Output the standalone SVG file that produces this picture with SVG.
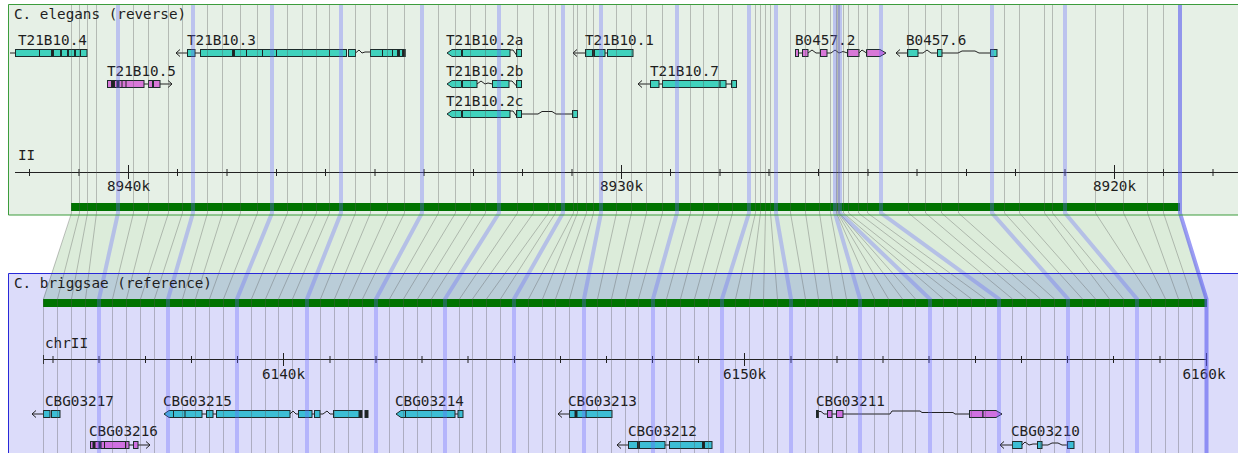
<svg xmlns="http://www.w3.org/2000/svg" width="1238" height="453" viewBox="0 0 1238 453">
<style>
text{font-family:"DejaVu Sans Mono","Liberation Mono",monospace;font-size:14.3px;fill:#1e1e1e}
.mid{text-anchor:middle}
.bx{stroke:#1d2b2b;stroke-width:1}
.tt{fill:#40d2bd}.tb{fill:#3cbed4}.mt{fill:#d878d8}.mb{fill:#cf70e0}.dk{fill:#222}
.ln{fill:none;stroke:#222;stroke-width:1}
.ax{fill:none;stroke:#222;stroke-width:1}
.thin{fill:none;stroke:#555;stroke-opacity:0.35;stroke-width:1}
.thick{fill:none;stroke:#6464ff;stroke-opacity:0.32;stroke-width:4}
.last{fill:none;stroke:#5a5af0;stroke-opacity:0.6;stroke-width:4}
</style>
<rect width="1238" height="453" fill="#ffffff"/>
<g id="panel-elegans-bg"><rect x="8.5" y="4.5" width="1240" height="210.5" fill="#e6f0e6"/></g>
<g id="panel-briggsae-bg"><rect x="8.5" y="273.5" width="1240" height="200" fill="#dcdcfa"/></g>
<g id="alignment-band">
<polygon points="71,215 1180,215 1198.6,273 51.7,273" fill="#dcecda"/>
<polygon points="51.7,273 1198.6,273 1207,299 43,299" fill="#bacdd8"/>
</g>
<g id="bars">
<rect x="71" y="203" width="1109" height="8" fill="#007300"/>
<rect x="43" y="299" width="1164" height="8" fill="#007300"/>
</g>
<g id="axis-top">
<path class="ax" d="M15 172.5H1238"/>
<path class="ax" d="M29.5 169V176M79 169V176M177.5 169V176M227 169V176M276.5 169V176M325.5 169V176M375 169V176M424 169V176M473.5 169V176M522.5 169V176M572 169V176M670.5 169V176M720 169V176M769 169V176M818.5 169V176M868 169V176M917 169V176M966.5 169V176M1015.5 169V176M1065 169V176M1163.5 169V176M1213 169V176"/>
<path class="ax" d="M128.5 165V179M621.5 165V179M1114.5 165V179"/>
<text x="18" y="160">II</text>
<text class="mid" x="128.5" y="191">8940k</text>
<text class="mid" x="621.5" y="191">8930k</text>
<text class="mid" x="1114.5" y="191">8920k</text>
</g>
<g id="axis-bottom">
<path class="ax" d="M43 359.5H1207"/>
<path class="ax" d="M43.5 355V364M53 356V363M99 356V363M145.5 356V363M191.5 356V363M237.5 356V363M330 356V363M376 356V363M422 356V363M468 356V363M514.5 356V363M560.5 356V363M606.5 356V363M652.5 356V363M698.5 356V363M791 356V363M837 356V363M883 356V363M929 356V363M975.5 356V363M1021.5 356V363M1067.5 356V363M1113.5 356V363M1160 356V363"/>
<path class="ax" d="M283.5 353V366M744.5 353V366M1206.5 353V366"/>
<text x="45" y="348">chrII</text>
<text class="mid" x="283.5" y="379">6140k</text>
<text class="mid" x="744.5" y="379">6150k</text>
<text class="mid" x="1204" y="379">6160k</text>
</g>
<g id="T21B10.4">
<text x="18" y="44.5">T21B10.4</text>
<path class="ln" d="M10 53H15.5"/>
<rect class="bx tt" x="15.5" y="49.5" width="36" height="7"/>
<path class="ln" d="M39.5 49.5V56.5"/>
<rect class="bx dk" x="51.5" y="49.5" width="2" height="7"/>
<rect class="bx tt" x="53.5" y="49.5" width="7" height="7"/>
<rect class="bx tt" x="61.5" y="49.5" width="6" height="7"/>
<rect class="bx tt" x="68.5" y="49.5" width="6" height="7"/>
<rect class="bx tt" x="75.5" y="49.5" width="11.5" height="7"/>
<path class="ln" d="M80.5 49.5V56.5"/>
</g>
<g id="T21B10.3">
<text x="187" y="44.5">T21B10.3</text>
<path class="ln" d="M187 53H176M180 49.5L176 53L180 56.5M195 53H200"/>
<rect class="bx tt" x="187.5" y="49.5" width="7.5" height="7"/>
<rect class="bx tt" x="200.5" y="49.5" width="146" height="7"/>
<rect class="bx dk" x="232.5" y="49.5" width="2" height="7"/>
<path class="ln" d="M246.5 49.5V56.5M262.5 49.5V56.5M276.5 49.5V56.5M329.5 49.5V56.5"/>
<rect class="bx tt" x="348.5" y="49.5" width="7" height="7"/>
<path class="ln" d="M355.5 53L359 50L362 53L365 52H370.5"/>
<rect class="bx tt" x="370.5" y="49.5" width="34.5" height="7"/>
<path class="ln" d="M382.5 49.5V56.5M392.5 49.5V56.5"/>
<rect class="bx dk" x="397.5" y="49.5" width="2" height="7"/>
<rect class="bx dk" x="402.5" y="49.5" width="2.5" height="7"/>
</g>
<g id="T21B10.5">
<text x="107" y="75.5">T21B10.5</text>
<rect class="bx mt" x="107.5" y="80.5" width="36.5" height="7"/>
<rect class="bx dk" x="111.5" y="80.5" width="3" height="7"/>
<rect class="bx dk" x="117" y="80.5" width="2" height="7"/>
<path class="ln" d="M122 80.5V87.5M126 80.5V87.5M144 84H148.5M160 84H172M168 80.5L172 84L168 87.5"/>
<rect class="bx mt" x="148.5" y="80.5" width="4" height="7"/>
<rect class="bx mt" x="153.5" y="80.5" width="6.5" height="7"/>
</g>
<g id="T21B10.2a">
<text x="446" y="44.5">T21B10.2a</text>
<path class="bx tt" d="M447 53L452 49.5H461.5V56.5H452Z"/>
<rect class="bx tt" x="462.5" y="49.5" width="47.5" height="7"/>
<path class="ln" d="M510 50L513 50L516.5 55"/>
<rect class="bx tt" x="516.5" y="49.5" width="5" height="7"/>
</g>
<g id="T21B10.2b">
<text x="446" y="75.5">T21B10.2b</text>
<path class="bx tt" d="M447 84L452 80.5H461.5V87.5H452Z"/>
<rect class="bx tt" x="462.5" y="80.5" width="14.5" height="7"/>
<path class="ln" d="M477 84L481 81L485 84L488 83L492.5 84M509 81L512 81L516.5 86"/>
<rect class="bx tt" x="492.5" y="80.5" width="16.5" height="7"/>
<rect class="bx tt" x="516.5" y="80.5" width="5" height="7"/>
</g>
<g id="T21B10.2c">
<text x="446" y="106">T21B10.2c</text>
<path class="bx tt" d="M447 114L452 110.5H461.5V117.5H452Z"/>
<rect class="bx tt" x="462.5" y="110.5" width="47.5" height="7"/>
<path class="ln" d="M510 111L513 111L516.5 116M521.5 114H538L542 111.5H552L556 114H572.5"/>
<rect class="bx tt" x="516.5" y="110.5" width="5" height="7"/>
<rect class="bx tt" x="572.5" y="110.5" width="5" height="7"/>
</g>
<g id="T21B10.1">
<text x="585" y="44.5">T21B10.1</text>
<path class="ln" d="M585 53H573M577 49.5L573 53L577 56.5M605 53H607.5"/>
<rect class="bx tt" x="585.5" y="49.5" width="19.5" height="7"/>
<rect class="bx dk" x="592.5" y="49.5" width="2" height="7"/>
<rect class="bx tt" x="607.5" y="49.5" width="25.5" height="7"/>
</g>
<g id="T21B10.7">
<text x="650" y="75.5">T21B10.7</text>
<path class="ln" d="M650 84H638M642 80.5L638 84L642 87.5M659 84H662.5M726 84H731.5"/>
<rect class="bx tt" x="650.5" y="80.5" width="8.5" height="7"/>
<rect class="bx tt" x="662.5" y="80.5" width="63.5" height="7"/>
<path class="ln" d="M720 80.5V87.5"/>
<rect class="bx tt" x="731.5" y="80.5" width="5" height="7"/>
</g>
<g id="B0457.2">
<text x="795" y="44.5">B0457.2</text>
<rect class="bx mt" x="795.5" y="49.5" width="3" height="7"/>
<path class="ln" d="M798.5 53H802.5M808 53L812 50L816 53H820.5M827 53H831L835 50L839 53L843 51.5L847.5 53M859 53L862 50L866.5 53"/>
<rect class="bx mt" x="802.5" y="49.5" width="5.5" height="7"/>
<rect class="bx mt" x="820.5" y="49.5" width="6.5" height="7"/>
<rect class="bx mt" x="847.5" y="49.5" width="11.5" height="7"/>
<path class="bx mt" d="M866.5 49.5H880L886 53L880 56.5H866.5Z"/>
</g>
<g id="B0457.6">
<text x="906" y="44.5">B0457.6</text>
<path class="ln" d="M907 53H896M900 49.5L896 53L900 56.5M918 53H923L927 50L931 53H937.5M942 53H958L962 51H975L979 53H990.5"/>
<rect class="bx tt" x="907.5" y="49.5" width="10.5" height="7"/>
<rect class="bx tt" x="937.5" y="49.5" width="4.5" height="7"/>
<rect class="bx tt" x="990.5" y="49.5" width="6.5" height="7"/>
</g>
<g id="CBG03217">
<text x="45" y="405.5">CBG03217</text>
<path class="ln" d="M43 414H32M36 410.5L32 414L36 417.5"/>
<rect class="bx tb" x="43.5" y="410.5" width="6.5" height="7"/>
<rect class="bx tb" x="51.5" y="410.5" width="8.5" height="7"/>
</g>
<g id="CBG03216">
<text x="89" y="436">CBG03216</text>
<rect class="bx mb" x="90.5" y="441.5" width="38.5" height="7"/>
<rect class="bx dk" x="93" y="441.5" width="2" height="7"/>
<rect class="bx dk" x="99" y="441.5" width="2" height="7"/>
<path class="ln" d="M104.5 441.5V448.5M125.5 441.5V448.5M129 445H133.5M138 445H150M146 441.5L150 445L146 448.5"/>
<rect class="bx mb" x="133.5" y="441.5" width="4.5" height="7"/>
</g>
<g id="CBG03215">
<text x="163" y="405.5">CBG03215</text>
<path class="bx tb" d="M164 414L169 410.5H173.5V417.5H169Z"/>
<rect class="bx tb" x="173.5" y="410.5" width="28.5" height="7"/>
<path class="ln" d="M185 410.5V417.5M202 414H206.5M213 414H216.5M229 410.5V417.5M290 414L293 411L296 414H298.5M312 414H314.5M320 414H323L327 411L330 414H333.5M347 410.5V417.5"/>
<rect class="bx tb" x="206.5" y="410.5" width="6.5" height="7"/>
<rect class="bx tb" x="216.5" y="410.5" width="73.5" height="7"/>
<rect class="bx tb" x="298.5" y="410.5" width="13.5" height="7"/>
<rect class="bx tb" x="314.5" y="410.5" width="5.5" height="7"/>
<rect class="bx tb" x="333.5" y="410.5" width="25.5" height="7"/>
<rect class="bx dk" x="359.5" y="410.5" width="2.5" height="7"/>
<rect class="bx dk" x="365" y="410.5" width="3" height="7"/>
</g>
<g id="CBG03214">
<text x="395" y="405.5">CBG03214</text>
<path class="bx tb" d="M396 414L401 410.5H405.5V417.5H401Z"/>
<rect class="bx tb" x="405.5" y="410.5" width="49.5" height="7"/>
<path class="ln" d="M455 414H458"/>
<rect class="bx tb" x="458" y="410.5" width="5" height="7"/>
</g>
<g id="CBG03213">
<text x="568" y="405.5">CBG03213</text>
<path class="ln" d="M569 414H558M562 410.5L558 414L562 417.5"/>
<rect class="bx tb" x="569.5" y="410.5" width="42.5" height="7"/>
<rect class="bx dk" x="575" y="410.5" width="2" height="7"/>
<path class="ln" d="M586 410.5V417.5"/>
</g>
<g id="CBG03212">
<text x="628" y="436">CBG03212</text>
<path class="ln" d="M628 445H617M621 441.5L617 445L621 448.5M665 445H669.5"/>
<rect class="bx tb" x="628.5" y="441.5" width="36.5" height="7"/>
<rect class="bx dk" x="637.5" y="441.5" width="2" height="7"/>
<rect class="bx tb" x="669.5" y="441.5" width="42.5" height="7"/>
<rect class="bx dk" x="702.5" y="441.5" width="2" height="7"/>
</g>
<g id="CBG03211">
<text x="816" y="405.5">CBG03211</text>
<rect class="bx dk" x="816.5" y="410.5" width="2" height="7"/>
<path class="ln" d="M818.5 411.5H821L824 414H827.5M832 414H836.5M843 414H890L892 411H920L922 412.5H953L955 414H969.5"/>
<rect class="bx mb" x="827.5" y="410.5" width="4.5" height="7"/>
<rect class="bx mb" x="836.5" y="410.5" width="6.5" height="7"/>
<rect class="bx mb" x="969.5" y="410.5" width="13.5" height="7"/>
<path class="bx mb" d="M983 410.5H996L1002 414L996 417.5H983Z"/>
</g>
<g id="CBG03210">
<text x="1011" y="436">CBG03210</text>
<path class="ln" d="M1012 445H1000M1004 441.5L1000 445L1004 448.5M1022 445L1025 442L1029 445L1033 444H1037.5M1042 445H1048L1052 443H1058L1062 445H1067.5"/>
<rect class="bx tb" x="1012.5" y="441.5" width="9.5" height="7"/>
<rect class="bx tb" x="1037.5" y="441.5" width="4.5" height="7"/>
<rect class="bx tb" x="1067.5" y="441.5" width="6.5" height="7"/>
</g>
<g id="connectors">
<path class="thin" d="M71.5 5V213L43.5 299V453"/>
<path class="thin" d="M79.5 5V213L57.5 299V453"/>
<path class="thin" d="M87.5 5V213L71.5 299V453"/>
<path class="thin" d="M96.5 5V213L85.5 299V453"/>
<path class="thick" d="M118 5V213L99 299V453"/>
<path class="thin" d="M133.5 5V213L112.5 299V453"/>
<path class="thin" d="M148.5 5V213L126.5 299V453"/>
<path class="thin" d="M168.5 5V213L140.5 299V453"/>
<path class="thin" d="M182.5 5V213L154.5 299V453"/>
<path class="thick" d="M193 5V213L168 299V453"/>
<path class="thin" d="M207.5 5V213L182.5 299V453"/>
<path class="thin" d="M222.5 5V213L195.5 299V453"/>
<path class="thin" d="M240.5 5V213L209.5 299V453"/>
<path class="thin" d="M257.5 5V213L223.5 299V453"/>
<path class="thick" d="M272 5V213L237 299V453"/>
<path class="thin" d="M287.5 5V213L251.5 299V453"/>
<path class="thin" d="M302.5 5V213L265.5 299V453"/>
<path class="thin" d="M316.5 5V213L278.5 299V453"/>
<path class="thin" d="M329.5 5V213L292.5 299V453"/>
<path class="thick" d="M341 5V213L307 299V453"/>
<path class="thin" d="M355.5 5V213L320.5 299V453"/>
<path class="thin" d="M370.5 5V213L334.5 299V453"/>
<path class="thin" d="M387.5 5V213L348.5 299V453"/>
<path class="thin" d="M404.5 5V213L362.5 299V453"/>
<path class="thick" d="M422 5V213L376 299V453"/>
<path class="thin" d="M438.5 5V213L389.5 299V453"/>
<path class="thin" d="M455.5 5V213L403.5 299V453"/>
<path class="thin" d="M470.5 5V213L417.5 299V453"/>
<path class="thin" d="M485.5 5V213L431.5 299V453"/>
<path class="thick" d="M499 5V213L445 299V453"/>
<path class="thin" d="M517.5 5V213L459.5 299V453"/>
<path class="thin" d="M533.5 5V213L472.5 299V453"/>
<path class="thin" d="M548.5 5V213L486.5 299V453"/>
<path class="thin" d="M555.5 5V213L500.5 299V453"/>
<path class="thick" d="M563 5V213L514 299V453"/>
<path class="thin" d="M573.5 5V213L528.5 299V453"/>
<path class="thin" d="M577.5 5V213L542.5 299V453"/>
<path class="thin" d="M586.5 5V213L555.5 299V453"/>
<path class="thin" d="M593.5 5V213L569.5 299V453"/>
<path class="thick" d="M601 5V213L584 299V453"/>
<path class="thin" d="M616.5 5V213L597.5 299V453"/>
<path class="thin" d="M631.5 5V213L611.5 299V453"/>
<path class="thin" d="M646.5 5V213L625.5 299V453"/>
<path class="thin" d="M662.5 5V213L638.5 299V453"/>
<path class="thick" d="M677 5V213L653 299V453"/>
<path class="thin" d="M690.5 5V213L666.5 299V453"/>
<path class="thin" d="M703.5 5V213L680.5 299V453"/>
<path class="thin" d="M718.5 5V213L694.5 299V453"/>
<path class="thin" d="M732.5 5V213L708.5 299V453"/>
<path class="thick" d="M749 5V213L722 299V453"/>
<path class="thin" d="M755.5 5V213L735.5 299V453"/>
<path class="thin" d="M760.5 5V213L749.5 299V453"/>
<path class="thin" d="M765.5 5V213L763.5 299V453"/>
<path class="thin" d="M770.5 5V213L777.5 299V453"/>
<path class="thick" d="M776 5V213L791 299V453"/>
<path class="thin" d="M790.5 5V213L805.5 299V453"/>
<path class="thin" d="M805.5 5V213L818.5 299V453"/>
<path class="thin" d="M819.5 5V213L832.5 299V453"/>
<path class="thin" d="M830.5 5V213L846.5 299V453"/>
<path class="thick" d="M835 5V213L860 299V453"/>
<path class="thin" d="M836.5 5V213L874.5 299V453"/>
<path class="thin" d="M837.5 5V213L888.5 299V453"/>
<path class="thin" d="M838.5 5V213L902.5 299V453"/>
<path class="thin" d="M839.5 5V213L915.5 299V453"/>
<path class="thick" d="M840 5V213L930 299V453"/>
<path class="thin" d="M843.5 5V213L943.5 299V453"/>
<path class="thin" d="M848.5 5V213L957.5 299V453"/>
<path class="thin" d="M858.5 5V213L971.5 299V453"/>
<path class="thin" d="M867.5 5V213L985.5 299V453"/>
<path class="thick" d="M881 5V213L999 299V453"/>
<path class="thin" d="M908.5 5V213L1012.5 299V453"/>
<path class="thin" d="M925.5 5V213L1026.5 299V453"/>
<path class="thin" d="M941.5 5V213L1040.5 299V453"/>
<path class="thin" d="M958.5 5V213L1054.5 299V453"/>
<path class="thick" d="M992 5V213L1068 299V453"/>
<path class="thin" d="M1004.5 5V213L1082.5 299V453"/>
<path class="thin" d="M1019.5 5V213L1095.5 299V453"/>
<path class="thin" d="M1044.5 5V213L1109.5 299V453"/>
<path class="thin" d="M1052.5 5V213L1123.5 299V453"/>
<path class="thick" d="M1065 5V213L1137 299V453"/>
<path class="thin" d="M1095.5 5V213L1151.5 299V453"/>
<path class="thin" d="M1123.5 5V213L1165.5 299V453"/>
<path class="thin" d="M1147.5 5V213L1178.5 299V453"/>
<path class="thin" d="M1163.5 5V213L1192.5 299V453"/>
<path class="last" d="M1180 5V213L1206.5 299V453"/>
</g>
<g id="panel-borders">
<path d="M1238 4.5H8.5V215H1238" fill="none" stroke="#3c9c3c" stroke-width="1"/>
<path d="M1238 273.5H8.5V453" fill="none" stroke="#2828d8" stroke-width="1"/>
</g>
<g id="panel-titles">
<text x="14" y="19">C. elegans (reverse)</text>
<text x="14" y="288">C. briggsae (reference)</text>
</g>
</svg>
